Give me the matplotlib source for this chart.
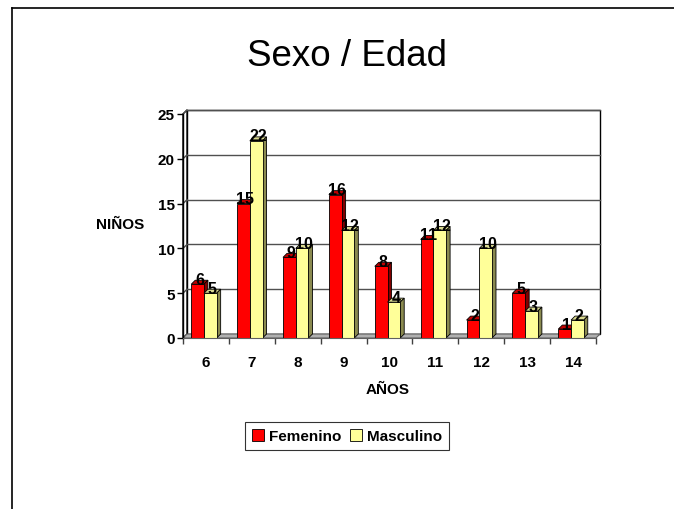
import matplotlib.pyplot as plt
from matplotlib.patches import Polygon, Rectangle, Patch
from matplotlib.lines import Line2D

plt.rcParams["font.family"] = ["Liberation Sans", "DejaVu Sans"]

# Data
edades = ["6", "7", "8", "9", "10", "11", "12", "13", "14"]
femenino = [6, 15, 9, 16, 8, 11, 2, 5, 1]
masculino = [5, 22, 10, 12, 4, 12, 10, 3, 2]
yticks = [0, 5, 10, 15, 20, 25]

W, H, DPI = 674, 510, 100
fig = plt.figure(figsize=(W / DPI, H / DPI), dpi=DPI)

# Plot area in pixels (front plane)
left_px, right_px, bottom_px, top_px = 183, 596, 339, 115
ax = fig.add_axes([left_px / W, 1 - bottom_px / H,
                   (right_px - left_px) / W, (bottom_px - top_px) / H])
n = len(edades)
xmin, xmax, ymax = -0.5, n - 0.5, 25
ax.set_xlim(xmin, xmax)
ax.set_ylim(0, ymax)

# 3D depth, 4 px right and 4 px up, in data units
depth_px = 4
dx = depth_px * (xmax - xmin) / (right_px - left_px)
dy = depth_px * ymax / (bottom_px - top_px)

for s in ax.spines.values():
    s.set_visible(False)
ax.patch.set_visible(False)

# Walls and floor
ax.add_patch(Rectangle((xmin + dx, dy), xmax - xmin, ymax, facecolor="white",
                       edgecolor="black", lw=1.0, zorder=0, clip_on=False))
ax.add_patch(Polygon([(xmin, 0), (xmin + dx, dy), (xmin + dx, ymax + dy), (xmin, ymax)],
                     closed=True, facecolor="white", edgecolor="black", lw=1.0,
                     zorder=0, clip_on=False))
ax.add_patch(Polygon([(xmin, 0), (xmax, 0), (xmax + dx, dy), (xmin + dx, dy)],
                     closed=True, facecolor="#b0b0b0", edgecolor="#606060", lw=0.8,
                     zorder=1, clip_on=False))
for v in yticks[1:]:
    ax.add_line(Line2D([xmin + dx, xmax + dx], [v + dy, v + dy], color="#505050",
                       lw=1.0, zorder=0.5, clip_on=False))
    ax.add_line(Line2D([xmin, xmin + dx], [v, v + dy], color="#505050",
                       lw=1.0, zorder=0.5, clip_on=False))

# Front axis line
ax.add_line(Line2D([xmin, xmin], [0, ymax], color="black", lw=1.0, zorder=3, clip_on=False))
ax.add_line(Line2D([xmin, xmax], [0, 0], color="#606060", lw=0.8, zorder=3, clip_on=False))

bar_w = 0.277


def draw_bar(xc, value, front, top, side):
    x0, x1 = xc - bar_w / 2, xc + bar_w / 2
    kw = dict(edgecolor="black", lw=0.6, zorder=2, clip_on=False, joinstyle="miter")
    ax.add_patch(Polygon([(x0, value), (x1, value), (x1 + dx, value + dy), (x0 + dx, value + dy)],
                         closed=True, facecolor=top, **kw))
    ax.add_patch(Polygon([(x1, 0), (x1 + dx, dy), (x1 + dx, value + dy), (x1, value)],
                         closed=True, facecolor=side, **kw))
    ax.add_patch(Rectangle((x0, 0), bar_w, value, facecolor=front, **kw))
    ax.text(xc + dx / 2, value + 0.05, str(value), ha="center", va="baseline",
            fontsize=11.5, fontweight="bold", zorder=5, clip_on=False)


for i, (f, m) in enumerate(zip(femenino, masculino)):
    base = i - dx / 2
    draw_bar(base - bar_w / 2, f, "#ff0000", "#c00000", "#800000")
    draw_bar(base + bar_w / 2, m, "#ffff99", "#d8d890", "#8a8a50")

# Ticks
ax.set_yticks(yticks)
ax.set_yticklabels([str(v) for v in yticks])
ax.tick_params(axis="y", direction="out", length=4, width=1.0, pad=2,
               labelsize=11, color="black")
for lab in ax.get_yticklabels():
    lab.set_fontweight("bold")

ax.set_xticks(range(n))
ax.set_xticklabels(edades)
ax.tick_params(axis="x", length=0, pad=12, labelsize=11)
for lab in ax.get_xticklabels():
    lab.set_fontweight("bold")
ax.set_xticks([xmin + k for k in range(n + 1)], minor=True)
ax.tick_params(axis="x", which="minor", direction="out", length=4, width=1.0, color="#404040")

# Titles and labels
fig.text(347 / W, 1 - 56 / H, "Sexo / Edad", ha="center", va="center", fontsize=26.5)
fig.text(388 / W, 1 - 390 / H, "AÑOS", ha="center", va="center",
         fontsize=11, fontweight="bold")
fig.text(120 / W, 1 - 225 / H, "NIÑOS", ha="center", va="center",
         fontsize=11, fontweight="bold")

# Legend
handles = [Patch(facecolor="#ff0000", edgecolor="black", lw=0.6, label="Femenino"),
           Patch(facecolor="#ffff99", edgecolor="black", lw=0.6, label="Masculino")]
leg = fig.legend(handles=handles, loc="center", bbox_to_anchor=(347 / W, 1 - 437 / H),
                 ncol=2, frameon=True, fancybox=False, edgecolor="black",
                 prop={"weight": "bold", "size": 11}, handlelength=0.8,
                 handleheight=0.8, handletextpad=0.3, columnspacing=0.6,
                 borderpad=0.45, borderaxespad=0)
leg.get_frame().set_linewidth(0.8)

# Outer chart frame (continues past the right and bottom edges)
fig.add_artist(Line2D([12 / W, 1], [1 - 9 / H, 1 - 9 / H], color="black", lw=1.2,
                      transform=fig.transFigure))
fig.add_artist(Line2D([12 / W, 12 / W], [0, 1 - 9 / H], color="black", lw=1.2,
                      transform=fig.transFigure))

fig.savefig("out.png", dpi=DPI)
